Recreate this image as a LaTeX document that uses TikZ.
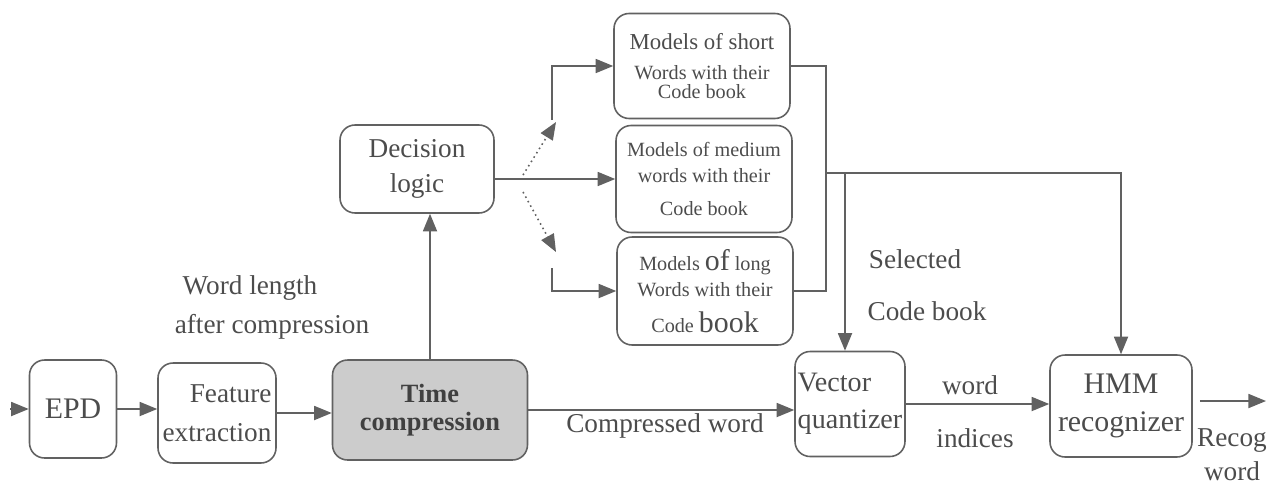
\documentclass[tikz,border=0pt]{standalone}
\usepackage{fontspec}
\setmainfont{LiberationSerif}[Extension=.ttf, UprightFont=*-Regular, BoldFont=*-Bold, ItalicFont=*-Italic, BoldItalicFont=*-BoldItalic]
\usetikzlibrary{arrows.meta,positioning,calc}

\definecolor{inkgray}{gray}{0.30}
\definecolor{wiregray}{gray}{0.38}
\definecolor{shadegray}{gray}{0.80}

\tikzset{
  blk/.style={draw=wiregray, rounded corners=0.3cm, line width=0.9pt, text=inkgray,
    align=center, inner sep=1pt, font=\fontsize{15}{18}\selectfont},
  modelblk/.style={blk, minimum width=3.52cm, minimum height=2.14cm, font=\fontsize{11.5}{14}\selectfont},
  lbl/.style={text=inkgray, font=\fontsize{15.5}{18}\selectfont, inner sep=0pt},
  arr/.style={-{Triangle[length=10pt,width=8pt]}, draw=wiregray, line width=0.9pt},
  wire/.style={draw=wiregray, line width=0.9pt},
}

\begin{document}
\begin{tikzpicture}[x=0.02cm,y=-0.02cm]
  \useasboundingbox (0,0) rectangle (1287,484);

  % main chain
  \node[blk, minimum width=1.74cm, minimum height=1.96cm, font=\fontsize{17}{18}\selectfont] (epd) at (73,409) {EPD};
  \node[blk, minimum width=2.36cm, minimum height=2.0cm, align=right, font=\fontsize{15.5}{22}\selectfont] (feat) at (217,413) {Feature\\extraction};
  \node[blk, fill=shadegray, minimum width=3.9cm, minimum height=2.0cm, text=black!75,
        font=\fontsize{15}{16}\selectfont\bfseries] (tcomp) at (430,410) {Time\\compression};
  \node[blk, minimum width=3.08cm, minimum height=1.76cm, font=\fontsize{15.5}{20}\selectfont] (dlogic) at (417,169) {Decision\\logic};

  % code book models
  \node[modelblk, minimum height=2.1cm] (mshort) at (702,66)
    {{\fontsize{13}{14}\selectfont Models of short}\\[3pt] Words with their\\[-3pt] Code book};
  \node[modelblk] (mmed) at (704,179) {Models of medium\\[1pt] words with their\\[5pt] Code book};
  \node[modelblk, minimum height=2.16cm] (mlong) at (705,291)
    {Models {\fontsize{17}{14}\selectfont of} long\\[1pt] Words with their\\[6pt] Code {\fontsize{17}{14}\selectfont book}};

  \node[blk, minimum width=2.2cm, minimum height=2.1cm, align=left, inner sep=0pt, font=\fontsize{16}{21}\selectfont] (vquant) at (850,404) {Vector\\quantizer};
  \node[blk, minimum width=2.84cm, minimum height=2.04cm, font=\fontsize{17}{22}\selectfont] (hmm) at (1121,406) {HMM\\recognizer};

  % labels
  \node[lbl] (wlen) at (250,288) {Word length};
  \node[lbl] (wlenb) at (272,327) {after compression};
  \node[lbl] (cword) at (665,426) {Compressed word};
  \node[lbl] (selA) at (915,259) {Selected};
  \node[lbl] (selB) at (927,311) {Code book};
  \node[lbl] (widx) at (970,385) {word};
  \node[lbl] (widxb) at (975,438) {indices};
  \node[lbl] (recA) at (1232,441) {Recog};
  \node[lbl] (recB) at (1232,471) {word};

  % connectors
  \coordinate (in) at (10,409);
  \draw[arr] (in) -- (epd.west);
  \draw[arr] (epd.east) -- (epd.east -| feat.west);
  \draw[arr] (feat.east) -- (feat.east -| tcomp.west);
  \draw[arr] (tcomp.east) -- (tcomp.east -| vquant.west);
  \draw[arr] (tcomp.north) -- (tcomp.north |- dlogic.south);
  \draw[arr] (dlogic.east |- mmed.west) -- (mmed.west);

  \coordinate (forkup) at (523,175);
  \coordinate (forkdn) at (523,192);
  \coordinate (upbend) at (552,120);
  \coordinate (dnbend) at (552,268);
  \draw[arr, dotted] (forkup) -- (556,122);
  \draw[arr, dotted] (forkdn) -- (556,252);
  \draw[arr] (upbend) |- (mshort.west);
  \draw[arr] (dnbend) |- (mlong.west);

  \draw[wire] (mshort.east) -- ++(35,0) coordinate (brk) |- (mlong.east);
  \coordinate (sel) at (brk |- 0,173);
  \coordinate (tap) at (845,173);
  \draw[arr] (sel) -| (hmm.north);
  \draw[arr] (tap) -- (tap |- vquant.north);
  \draw[arr] (vquant.east) -- (vquant.east -| hmm.west);
  \coordinate (out) at (1266,401);
  \draw[arr, shorten <=4pt] (hmm.east |- out) -- (out);
\end{tikzpicture}
\end{document}
